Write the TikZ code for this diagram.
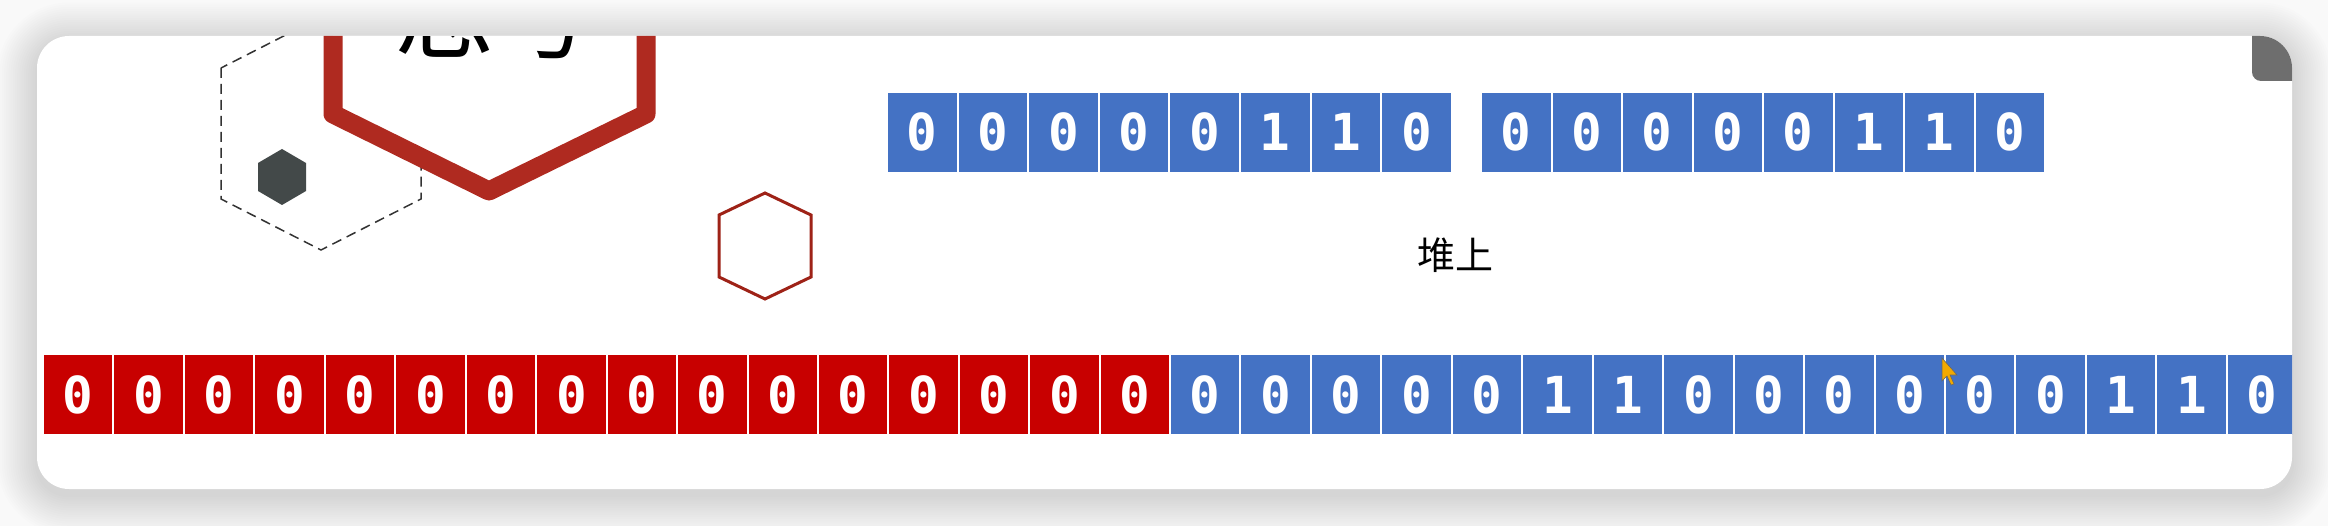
\documentclass[tikz,border=0pt]{standalone}
\usepackage{fontspec}
\newfontfamily\cjk{Noto Sans CJK SC}
\newfontfamily\monofnt{DejaVu Sans Mono}
\definecolor{pagebg}{HTML}{F9F9F9}
\definecolor{bitblue}{HTML}{4472C4}
\definecolor{bitred}{HTML}{C80000}
\definecolor{hexred}{HTML}{AF2A20}
\definecolor{smallred}{HTML}{9E2217}
\definecolor{darkhex}{HTML}{434949}
\definecolor{thumbgray}{HTML}{6E6E6E}
\definecolor{cursorcol}{HTML}{F2A900}
\begin{document}
\begin{tikzpicture}[x=1pt,y=-1pt,
  bit/.style={draw=white, line width=2pt, minimum width=70.5pt, minimum height=81pt,
    inner sep=0pt, text=white, anchor=north west,
    font=\monofnt\bfseries\fontsize{51}{51}\selectfont},
  bluebit/.style={bit, fill=bitblue},
  redbit/.style={bit, fill=bitred},
  dashhex/.style={draw=black!80, line width=1.5pt, dash pattern=on 10pt off 6pt},
  bighex/.style={fill=white, draw=hexred, line width=19pt, line join=round},
  smallhex/.style={draw=smallred, line width=3pt, line join=miter}]
\useasboundingbox (0,0) rectangle (2328,526);
\fill[pagebg] (0,0) rectangle (2328,526);
% soft shadow
\foreach \i in {1,...,18}{
  \pgfmathsetmacro\e{2.2*\i}
  \pgfmathsetmacro\rr{32+\e}
  \fill[black, opacity=0.0075, rounded corners=\rr pt]
    (37-\e,36-\e+6) rectangle (2292+\e,489+\e+6);
}
\fill[white, rounded corners=32pt] (37,36) rectangle (2292,489);
\begin{scope}
\clip[rounded corners=32pt] (37,36) rectangle (2292,489);
% dashed hexagon and small dark hexagon
\draw[dashhex] (221,68) -- (221,199) -- (321,250) -- (421,199) -- (421,68) -- (321,17) -- cycle;
\fill[darkhex] (282,149) -- (306,163) -- (306,191) -- (282,205) -- (258,191) -- (258,163) -- cycle;
% big red hexagon
\filldraw[bighex] (333,-150) -- (333,114) -- (489,191) -- (646,114) -- (646,-150);
\node[font=\cjk\fontsize{100}{100}\selectfont, anchor=base, inner sep=0pt] (think) at (494,52) {思考};
% small red hexagon
\draw[smallhex] (765,193) -- (811,215) -- (811,277) -- (765,299) -- (719,277) -- (719,215) -- cycle;
% top row
\foreach \d [count=\i] in {0,0,0,0,0,1,1,0}{
  \node[bluebit] (ta\i) at ({886+70.6*(\i-1)},90.6) {\d};
  \node[bluebit] (tb\i) at ({1480+70.5*(\i-1)},90.6) {\d};
}
\node[font=\cjk\fontsize{38}{38}\selectfont] (label) at (1455,255) {堆上};
% bottom row
\foreach \i in {1,...,16}{
  \node[redbit] (r\i) at ({42+70.45*(\i-1)},353) {0};
}
\foreach \d [count=\i] in {0,0,0,0,0,1,1,0,0,0,0,0,0,1,1,0}{
  \node[bluebit] (b\i) at ({1169+70.45*(\i-1)},353) {\d};
}
% scrollbar thumb
\fill[thumbgray, rounded corners=9pt] (2252,10) rectangle (2310,81);
% mouse cursor
\filldraw[fill=cursorcol, draw=black!60, line width=0.6pt]
  (1942,358) -- (1942,381) -- (1947,376) -- (1951,385) -- (1954,384) -- (1950,375) -- (1957,375) -- cycle;
\end{scope}
\end{tikzpicture}
\end{document}
